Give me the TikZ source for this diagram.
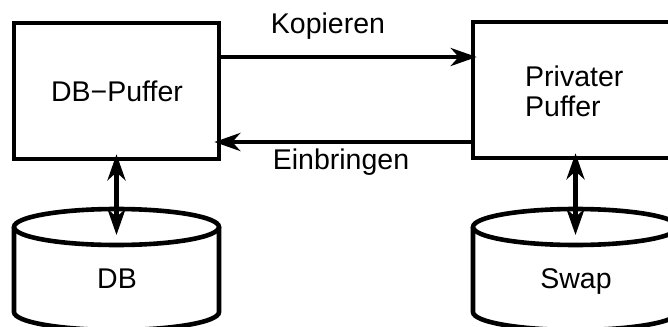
\documentclass[tikz,border=0pt]{standalone}
\usepackage{fontspec}
\setmainfont{Liberation Sans}
\usetikzlibrary{arrows.meta,calc}
\begin{document}
\begin{tikzpicture}[x=1pt,y=-1pt,
  box/.style={draw,line width=4.6pt,minimum width=205pt,minimum height=136pt,inner sep=0pt},
  conn/.style={line width=4.2pt,-{Stealth[length=26pt,width=18pt,inset=8pt]}},
  biconn/.style={line width=4.2pt,{Stealth[length=26pt,width=18pt,inset=8pt]}-{Stealth[length=26pt,width=18pt,inset=8pt]}},
  cyl/.style={line width=4.6pt},
  lbl/.style={font=\fontsize{28.5}{29}\selectfont,inner sep=0pt}]
\useasboundingbox (0,0) rectangle (668,326);
% boxes
\node[box] (dbp) at (116.5,91) {};
\node[box] (pp) at (575.5,90) {};
\node[lbl,anchor=base] (dbpl) at (117,102) {DB−Puffer};
\node[lbl,anchor=base west,align=left] (ppl) at (525,116) {Privater\\Puffer};
% cylinders
\draw[cyl] (14,227) -- (14,312) arc[start angle=180,end angle=0,x radius=102.5,y radius=18] -- (219,227);
\draw[cyl] (116.5,227) ellipse[x radius=102.5,y radius=18];
\draw[cyl] (473,227) -- (473,312) arc[start angle=180,end angle=0,x radius=102.5,y radius=18] -- (678,227);
\draw[cyl] (575.5,227) ellipse[x radius=102.5,y radius=18];
\coordinate (db) at (116.5,235);
\coordinate (sw) at (575.5,235);
\node[lbl,anchor=base] (dbl) at (117,288) {DB};
\node[lbl,anchor=base] (swl) at (576,288) {Swap};
% horizontal arrows
\coordinate (ky) at (0,57);
\coordinate (ey) at (0,142);
\draw[conn,shorten >=-6pt] (dbp.east |- ky) -- (pp.west |- ky);
\draw[conn,shorten >=-7pt] (pp.west |- ey) -- (dbp.east |- ey);
\node[lbl,anchor=base] (kop) at (328,34) {Kopieren};
\node[lbl,anchor=base] (ein) at (341,169) {Einbringen};
% vertical arrows
\draw[biconn,shorten <=-7pt] (dbp.south) -- (db);
\draw[biconn,shorten <=-7pt] (pp.south) -- (sw);
\end{tikzpicture}
\end{document}
